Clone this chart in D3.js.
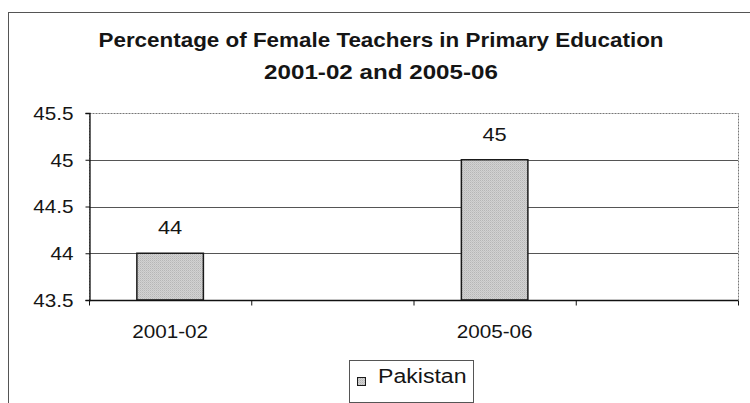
<!DOCTYPE html>
<html>
<head>
<meta charset="utf-8">
<script src="https://cdn.jsdelivr.net/npm/d3@7"></script>
<style>
  body { margin: 0; background: #fff; }
  svg { display: block; }
  text { font-family: "Liberation Sans", Arial, sans-serif; fill: #151515; }
</style>
</head>
<body>
<svg id="chart" width="750" height="403"></svg>
<script>
// Chart data
const categories = ["2001-02", "", "2005-06", ""];
const values = [44, null, 45, null];
const seriesName = "Pakistan";
const yTicks = [43.5, 44, 44.5, 45, 45.5];
const yDomain = [43.5, 45.5];
const titleLines = ["Percentage of Female Teachers in Primary Education", "2001-02 and 2005-06"];

const W = 750, H = 403;
const SX = 1.15;                       // wide text face
const plot = { left: 89, right: 738, top: 113, bottom: 300 };

const svg = d3.select("#chart");

// Dithered grey fill used for the bars and the legend key
const defs = svg.append("defs");
const pat = defs.append("pattern")
  .attr("id", "dots").attr("width", 2).attr("height", 2)
  .attr("patternUnits", "userSpaceOnUse");
pat.append("rect").attr("width", 2).attr("height", 2).attr("fill", "#d2d2d2");
pat.append("rect").attr("width", 1).attr("height", 1).attr("fill", "#b6b6b6");
pat.append("rect").attr("x", 1).attr("y", 1).attr("width", 1).attr("height", 1).attr("fill", "#c4c4c4");

// Outer chart frame
svg.append("rect")
  .attr("x", 8.5).attr("y", 12.5)
  .attr("width", W + 20).attr("height", H + 20)
  .attr("fill", "#fff").attr("stroke", "#555").attr("stroke-width", 1);

function txt(g, x, y, s, size, anchor, weight, sx) {
  return g.append("text")
    .attr("transform", `translate(${x},${y}) scale(${sx || SX},1)`)
    .attr("text-anchor", anchor || "middle")
    .style("font-size", size + "px")
    .style("font-weight", weight || "normal")
    .text(s);
}

// Title
txt(svg, 381, 47, titleLines[0], 19.5, "middle", "bold");
txt(svg, 381, 79, titleLines[1], 19.5, "middle", "bold", 1.24);

// Scales
const x = d3.scaleBand()
  .domain(d3.range(categories.length))
  .range([plot.left, plot.right])
  .paddingInner(0).paddingOuter(0);
const y = d3.scaleLinear().domain(yDomain).range([plot.bottom, plot.top]);

// Plot area border (dotted) and gridlines
svg.append("rect")
  .attr("x", plot.left + 0.5).attr("y", plot.top + 0.5)
  .attr("width", plot.right - plot.left).attr("height", plot.bottom - plot.top)
  .attr("fill", "none").attr("stroke", "#777").attr("stroke-dasharray", "2,1");

svg.append("g").selectAll("line")
  .data(yTicks.filter(t => t > yDomain[0] && t < yDomain[1]))
  .join("line")
  .attr("x1", plot.left).attr("x2", plot.right)
  .attr("y1", d => Math.round(y(d)) + 0.5).attr("y2", d => Math.round(y(d)) + 0.5)
  .attr("stroke", "#555").attr("stroke-width", 1);

// Bars
const barW = x.bandwidth() * 0.41;
svg.append("g").selectAll("rect")
  .data(values.map((v, i) => ({ v, i })).filter(d => d.v != null))
  .join("rect")
  .attr("x", d => x(d.i) + (x.bandwidth() - barW) / 2)
  .attr("y", d => y(d.v))
  .attr("width", barW)
  .attr("height", d => y(yDomain[0]) - y(d.v))
  .attr("fill", "url(#dots)")
  .attr("stroke", "#1a1a1a").attr("stroke-width", 1.5);

// Value labels
const vl = svg.append("g");
values.forEach((v, i) => {
  if (v == null) return;
  txt(vl, x(i) + x.bandwidth() / 2, y(v) - 19, String(v), 19);
});

// Y axis
const yAxis = svg.append("g")
  .attr("transform", `translate(${plot.left + 0.5},0)`)
  .call(d3.axisLeft(y).tickValues(yTicks).tickSize(4).tickFormat(d3.format("")));
yAxis.select(".domain").attr("stroke", "#111").attr("stroke-width", 1.3);
yAxis.selectAll(".tick line").attr("stroke", "#111");
yAxis.selectAll(".tick text")
  .attr("x", 0).attr("dy", "0.36em")
  .attr("transform", `translate(-16,0) scale(${SX},1)`)
  .style("font-size", "18px").style("font-family", "Liberation Sans, Arial, sans-serif")
  .attr("fill", "#151515");

// X axis: band boundary ticks and centred category labels
const xAxis = svg.append("g")
  .attr("transform", `translate(0,${plot.bottom + 0.5})`)
  .call(d3.axisBottom(x).tickSize(0).tickFormat(i => categories[i]));
xAxis.select(".domain").remove();
xAxis.append("line")
  .attr("x1", plot.left).attr("x2", plot.right)
  .attr("stroke", "#111").attr("stroke-width", 1.3);
xAxis.selectAll(".bound")
  .data(d3.range(categories.length + 1))
  .join("line").attr("class", "bound")
  .attr("x1", i => i < categories.length ? x(i) + 0.5 : plot.right + 0.5)
  .attr("x2", i => i < categories.length ? x(i) + 0.5 : plot.right + 0.5)
  .attr("y1", 0).attr("y2", 5)
  .attr("stroke", "#111");
xAxis.selectAll(".tick text")
  .attr("y", 0).attr("dy", 0)
  .attr("transform", `translate(0,37.5) scale(${SX},1)`)
  .style("font-size", "18px").style("font-family", "Liberation Sans, Arial, sans-serif")
  .attr("fill", "#151515");

// Legend
const lg = svg.append("g");
lg.append("rect")
  .attr("x", 349.5).attr("y", 360.5).attr("width", 124).attr("height", 42)
  .attr("fill", "#fff").attr("stroke", "#555");
lg.append("rect")
  .attr("x", 357.5).attr("y", 377.5).attr("width", 8).attr("height", 8)
  .attr("fill", "url(#dots)").attr("stroke", "#1a1a1a");
txt(lg, 378, 383, seriesName, 21, "start", "normal", 1.1);
</script>
</body>
</html>
